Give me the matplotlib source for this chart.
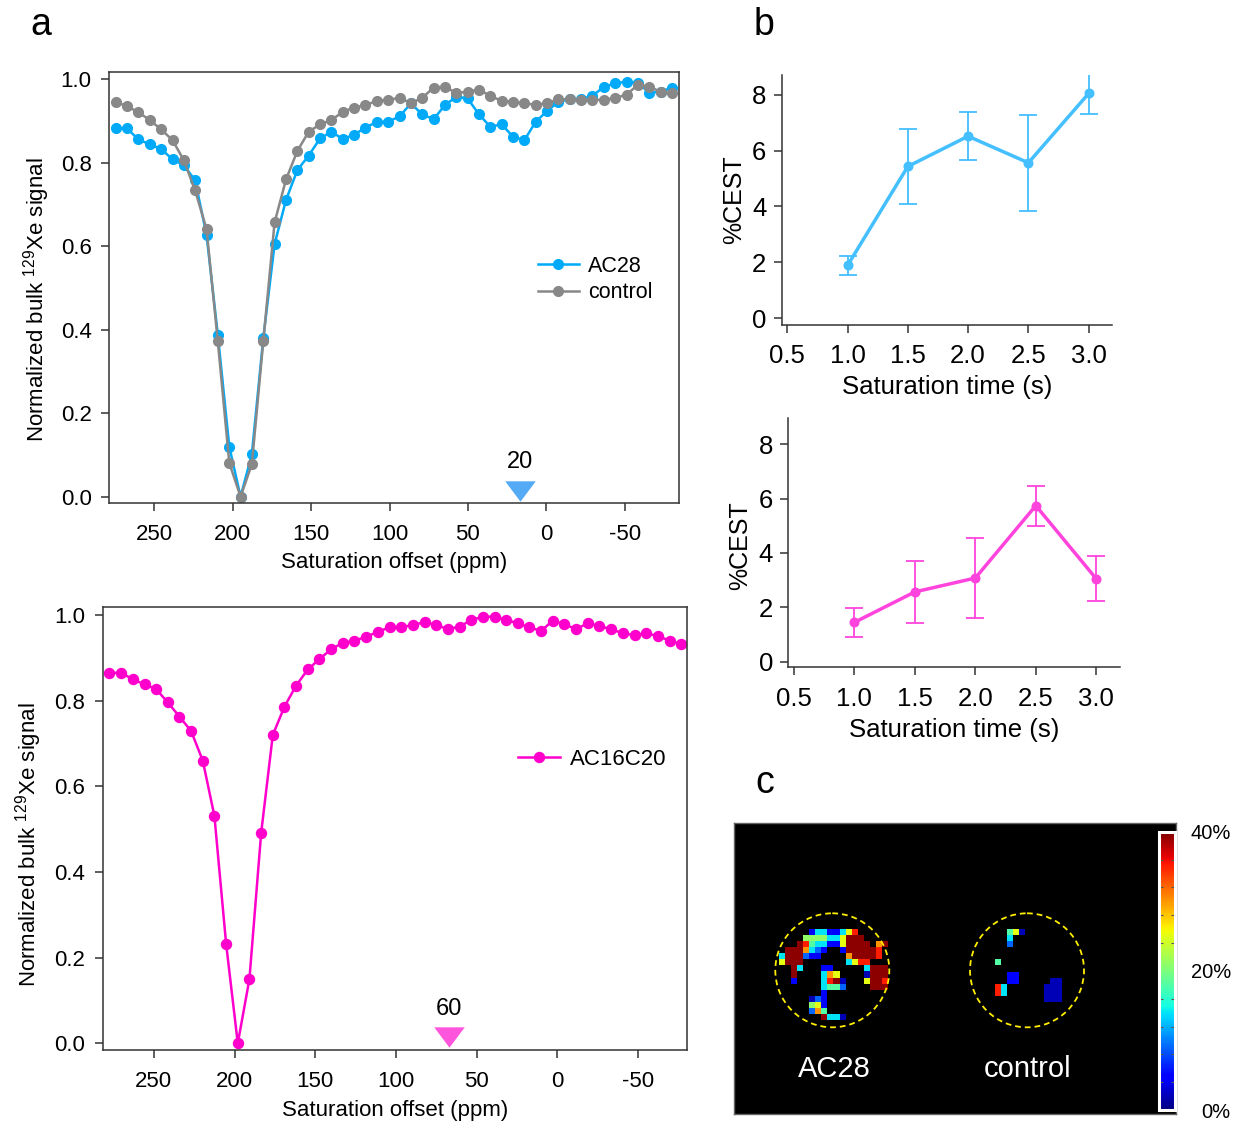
import numpy as np
import matplotlib.pyplot as plt
from matplotlib.patches import Circle

plt.rcParams['font.family'] = ['Liberation Sans', 'DejaVu Sans']
plt.rcParams['mathtext.default'] = 'regular'
plt.rcParams['axes.unicode_minus'] = False

# ---- panel a, top: AC28 vs control z-spectra
offset_top = [274.6, 267.4, 260.2, 252.9, 245.7, 238.4, 231.2, 224.0, 216.7, 209.5,
              202.2, 195.0, 187.8, 180.5, 173.3, 166.0, 158.8, 151.6, 144.3, 137.1,
              129.8, 122.6, 115.4, 108.1, 100.9, 93.6, 86.4, 79.2, 71.9, 64.7,
              57.4, 50.2, 43.0, 35.7, 28.5, 21.2, 14.0, 6.8, -0.5, -7.7,
              -15.0, -22.2, -29.4, -36.7, -43.9, -51.2, -58.4, -65.6, -72.9, -80.1]
ac28 = [0.882, 0.882, 0.856, 0.844, 0.833, 0.808, 0.794, 0.758, 0.627, 0.388,
        0.120, 0.0, 0.102, 0.380, 0.605, 0.711, 0.782, 0.817, 0.858, 0.874,
        0.857, 0.867, 0.884, 0.898, 0.898, 0.911, 0.942, 0.916, 0.904, 0.938,
        0.958, 0.954, 0.916, 0.886, 0.892, 0.862, 0.854, 0.898, 0.924, 0.946,
        0.952, 0.952, 0.960, 0.982, 0.990, 0.994, 0.992, 0.967, 0.970, 0.980]
control = [0.946, 0.935, 0.921, 0.902, 0.880, 0.854, 0.806, 0.734, 0.641, 0.372,
           0.081, 0.0, 0.078, 0.373, 0.657, 0.760, 0.828, 0.874, 0.892, 0.902,
           0.922, 0.932, 0.938, 0.948, 0.951, 0.955, 0.943, 0.955, 0.980, 0.982,
           0.967, 0.970, 0.975, 0.960, 0.948, 0.946, 0.942, 0.939, 0.942, 0.952,
           0.952, 0.951, 0.950, 0.951, 0.955, 0.963, 0.987, 0.982, 0.970, 0.966]
arrow_top, arrow_top_label = 17.0, '20'

# ---- panel a, bottom: AC16C20
offset_bottom = [277.5, 270.3, 263.1, 255.8, 248.6, 241.4, 234.2, 226.9, 219.7, 212.5,
                 205.2, 198.0, 190.8, 183.5, 176.3, 169.1, 161.9, 154.6, 147.4, 140.2,
                 132.9, 125.7, 118.5, 111.2, 104.0, 96.8, 89.6, 82.3, 75.1, 67.9,
                 60.6, 53.4, 46.2, 38.9, 31.7, 24.5, 17.3, 10.0, 2.8, -4.4,
                 -11.7, -18.9, -26.1, -33.4, -40.6, -47.8, -55.1, -62.3, -69.5, -76.7]
ac16c20 = [0.865, 0.865, 0.850, 0.838, 0.827, 0.796, 0.763, 0.729, 0.660, 0.531,
           0.231, 0.0, 0.150, 0.492, 0.720, 0.786, 0.835, 0.873, 0.897, 0.920,
           0.935, 0.940, 0.949, 0.961, 0.971, 0.971, 0.977, 0.983, 0.977, 0.967,
           0.973, 0.988, 0.996, 0.996, 0.988, 0.981, 0.971, 0.963, 0.987, 0.978,
           0.967, 0.981, 0.974, 0.967, 0.957, 0.953, 0.957, 0.951, 0.940, 0.932]
arrow_bottom, arrow_bottom_label = 67.0, '60'

xticks_a = [250, 200, 150, 100, 50, 0, -50]
yticks_a = [0.0, 0.2, 0.4, 0.6, 0.8, 1.0]

# ---- panel b: %CEST vs saturation time
sat_time = [1.0, 1.5, 2.0, 2.5, 3.0]
cest_ac28 = [1.89, 5.43, 6.51, 5.56, 8.04]
err_ac28 = [0.34, 1.33, 0.86, 1.71, 0.72]
cest_ac16 = [1.45, 2.57, 3.08, 5.74, 3.05]
err_ac16 = [0.54, 1.15, 1.47, 0.73, 0.83]
xticks_b = [0.5, 1.0, 1.5, 2.0, 2.5, 3.0]
yticks_b = [0, 2, 4, 6, 8]

# ---- panel c: CEST maps (percent), '.' = no signal
code = {'.': np.nan, 'b': 2, 'B': 5, 'l': 9, 'c': 14, 'g': 18, 'G': 21,
        'y': 25, 'o': 30, 'r': 35, 'R': 39.5}
map_ac28 = [
    ".....BccBBcyr.....",
    "....GGGGccyRRR....",
    "...RrgccBByRRRR.oR",
    ".RRRoclB..BRRRRRr.",
    "cRRRlBB....oRRRRr.",
    "yRRR.......cyrr...",
    "..Rc...BB.....cRRR",
    "..R....coy....bRRR",
    "..B....crRb...yRRr",
    ".......cggl....RRR",
    ".......B..........",
    ".....blB..........",
    ".....GyB..........",
    ".....log..........",
    ".......Rccb.......",
]
map_control = [
    "..gyb......",
    "..c........",
    "..l........",
    "...........",
    "...........",
    "g..........",
    "...........",
    "..BB.......",
    "..BB.....bb",
    "rc......bbb",
    "rc......bbb",
    "........bbb",
]
cbar_ticks = [0, 20, 40]
cbar_labels = ['0%', '20%', '40%']

BLUE = '#00AAF8'
GRAY = '#888888'
MAGENTA = '#FF00CC'
BLUE_B = '#44BFFF'
PINK_B = '#FF44DD'
SPINE = '#333333'

W, H = 1248, 1122


def box(x0, y0, x1, y1):
    return [x0 / W, 1 - y1 / H, (x1 - x0) / W, (y1 - y0) / H]


def to_grid(rows):
    return np.ma.masked_invalid(np.array([[code[ch] for ch in r] for r in rows], dtype=float))


fig = plt.figure(figsize=(W / 100, H / 100), dpi=100)

tri = [(-1.5, 1), (1.5, 1), (0, -1)]
ylab_a = 'Normalized bulk $^{129}$Xe signal'


def style_a(ax):
    for s in ax.spines.values():
        s.set_color(SPINE)
        s.set_linewidth(1.1)
    ax.set_xticks(xticks_a)
    ax.set_yticks(yticks_a)
    ax.yaxis.set_major_formatter('{x:.1f}')
    ax.tick_params(direction='out', length=6, width=1.1, color=SPINE,
                   labelsize=16, top=False, right=False)
    ax.tick_params(axis='x', pad=9)
    ax.tick_params(axis='y', pad=6.5)
    ax.set_xlabel('Saturation offset (ppm)', fontsize=16)
    ax.set_ylabel(ylab_a, fontsize=16)


# top-left
ax1 = fig.add_axes(box(109, 71.7, 679, 503.3))
ax1.plot(offset_top, ac28, '-o', color=BLUE, lw=1.8, ms=7, label='AC28')
ax1.plot(offset_top, control, '-o', color=GRAY, lw=1.8, ms=7, label='control')
ax1.set_xlim(278.9, -84.6)
ax1.set_ylim(-0.0158, 1.018)
style_a(ax1)
ax1.xaxis.set_label_coords(0.5, -0.113)
ax1.yaxis.set_label_coords(-0.1, 0.472)
ax1.plot([arrow_top], [0.014], marker=tri, ms=22, color='#55AAF5', ls='none',
         mew=0, clip_on=False)
ax1.text(arrow_top, 0.084, arrow_top_label, ha='center', va='center', fontsize=17)
ax1.legend(loc='upper left', bbox_to_anchor=(0.752, 0.573), frameon=False,
           fontsize=15.5, handlelength=1.9, handletextpad=0.45, labelspacing=0.25,
           borderpad=0, borderaxespad=0)

# bottom-left
ax2 = fig.add_axes(box(102.7, 607.3, 687.3, 1050))
ax2.plot(offset_bottom, ac16c20, '-o', color=MAGENTA, lw=1.8, ms=7.2, label='AC16C20')
ax2.set_xlim(281.7, -80.5)
ax2.set_ylim(-0.0156, 1.018)
style_a(ax2)
ax2.xaxis.set_label_coords(0.5, -0.113)
ax2.yaxis.set_label_coords(-0.1, 0.464)
ax2.plot([arrow_bottom], [0.0154], marker=tri, ms=22, color='#FF55DD', ls='none',
         mew=0, clip_on=False)
ax2.text(arrow_bottom, 0.080, arrow_bottom_label, ha='center', va='center', fontsize=17)
ax2.legend(loc='upper left', bbox_to_anchor=(0.71, 0.681), frameon=False,
           fontsize=16, handlelength=1.9, handletextpad=0.45,
           borderpad=0, borderaxespad=0)


def style_b(ax, ylim):
    ax.set_xlim(0.454, 3.196)
    ax.set_ylim(*ylim)
    ax.spines['top'].set_visible(False)
    ax.spines['right'].set_visible(False)
    for s in ('left', 'bottom'):
        ax.spines[s].set_color(SPINE)
        ax.spines[s].set_linewidth(1.1)
    ax.set_xticks(xticks_b)
    ax.set_yticks(yticks_b)
    ax.xaxis.set_major_formatter('{x:.1f}')
    ax.tick_params(direction='out', length=6, width=1.1, color=SPINE, labelsize=18.5)
    ax.tick_params(axis='x', pad=8)
    ax.tick_params(axis='y', pad=5)
    ax.set_xlabel('Saturation time (s)', fontsize=18.5)
    ax.set_ylabel('%CEST', fontsize=18)


axb1 = fig.add_axes(box(781.7, 75, 1112.3, 325))
axb1.errorbar(sat_time, cest_ac28, yerr=err_ac28, color=BLUE_B, lw=2.5, marker='o',
              ms=6.2, capsize=6.5, elinewidth=1.3, capthick=1.3)
style_b(axb1, (-0.24, 8.7))
axb1.xaxis.set_label_coords(0.5, -0.2)
axb1.yaxis.set_label_coords(-0.108, 0.5)

axb2 = fig.add_axes(box(788.3, 418, 1120, 667.3))
axb2.errorbar(sat_time, cest_ac16, yerr=err_ac16, color=PINK_B, lw=2.5, marker='o',
              ms=6.2, capsize=6.5, elinewidth=1.3, capthick=1.3)
style_b(axb2, (-0.2, 8.96))
axb2.xaxis.set_label_coords(0.5, -0.203)
axb2.yaxis.set_label_coords(-0.109, 0.49)

# panel c
axc = fig.add_axes(box(734, 823, 1176, 1114))
axc.set_facecolor('black')
axc.set_xticks([])
axc.set_yticks([])
for s in axc.spines.values():
    s.set_color('#666666')
    s.set_linewidth(1)

cmap = plt.get_cmap('jet').copy()
cmap.set_bad((0, 0, 0, 0))
cell = 6.05
g1 = to_grid(map_ac28)
g2 = to_grid(map_control)
im = axc.imshow(g1, cmap=cmap, vmin=0, vmax=40, interpolation='nearest',
                extent=(45, 45 + g1.shape[1] * cell, 106 + g1.shape[0] * cell, 106))
axc.imshow(g2, cmap=cmap, vmin=0, vmax=40, interpolation='nearest',
           extent=(260.6, 260.6 + g2.shape[1] * cell, 106 + g2.shape[0] * cell, 106))
axc.set_xlim(0, 442)
axc.set_ylim(291, 0)
axc.set_aspect('auto')
for cx in (98.3, 293.0):
    axc.add_patch(Circle((cx, 147.3), 57, fill=False, ec='#FFEE00', lw=1.3,
                         ls=(0, (3.2, 2.2))))
axc.text(100.3, 253.7, 'AC28', color='white', fontsize=21, ha='center', va='baseline')
axc.text(293.3, 253.7, 'control', color='white', fontsize=21, ha='center', va='baseline')

cax = fig.add_axes(box(1159.3, 831.7, 1175.3, 1110))
cb = fig.colorbar(im, cax=cax, ticks=cbar_ticks)
cb.outline.set_edgecolor('white')
cb.outline.set_linewidth(2.2)
cb.ax.set_yticklabels(cbar_labels)
cb.ax.tick_params(length=0, pad=40, labelsize=14.5)
for t in cb.ax.get_yticklabels():
    t.set_ha('right')
cb.ax.set_yticks(np.arange(4, 40, 4), minor=True)
cb.ax.tick_params(which='minor', direction='in', length=3, width=0.8, color='#555555',
                  left=True, right=True)

# panel letters
fig.text(30 / W, 1 - 35 / H, 'a', fontsize=27, va='baseline')
fig.text(754 / W, 1 - 35 / H, 'b', fontsize=27, va='baseline')
fig.text(755 / W, 1 - 793 / H, 'c', fontsize=27, va='baseline')

fig.savefig('out.png', dpi=100)
